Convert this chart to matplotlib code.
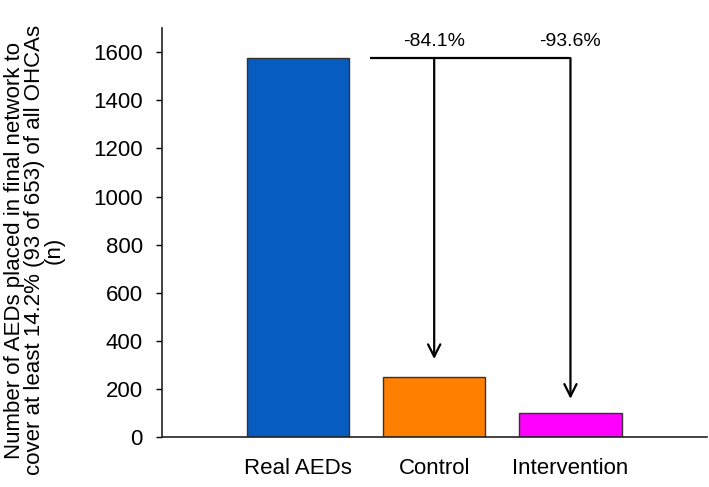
import matplotlib
matplotlib.use("Agg")
import matplotlib.pyplot as plt

# Data
groups = ["Real AEDs", "Control", "Intervention"]
n_aeds = [1575, 250, 100]
bar_colors = ["#075dbf", "#ff8000", "#ff00ff"]
reductions = ["-84.1%", "-93.6%"]
arrow_ends = [325, 160]

plt.rcParams["font.family"] = ["Liberation Sans", "DejaVu Sans"]

fig = plt.figure(figsize=(7.09, 4.87), dpi=100)
ax = fig.add_axes([0.228, 0.102, 0.7688, 0.8405])

x = range(len(groups))
ax.bar(x, n_aeds, width=0.75, color=bar_colors, edgecolor="#333333", linewidth=1)

# bracket from the real AEDs bar to the arrows
top = n_aeds[0]
ax.plot([0.53, 2], [top, top], color="black", lw=1.6, solid_capstyle="butt")
for i, (lab, end) in enumerate(zip(reductions, arrow_ends), start=1):
    ax.annotate("", xy=(i, end), xytext=(i, top),
                arrowprops=dict(arrowstyle="->", color="black", lw=1.6,
                                mutation_scale=22, shrinkA=0, shrinkB=0))
    ax.text(i, 1642, lab, ha="center", va="center", fontsize=14)

ax.set_xlim(-1, 3)
ax.set_ylim(0, 1700)
ax.set_yticks(range(0, 1601, 200))
ax.set_xticks(list(x))
ax.set_xticklabels(groups, fontsize=16)
ax.tick_params(axis="x", length=0, pad=15)
ax.tick_params(axis="y", labelsize=16, length=4.5, width=1, pad=9)
ax.set_ylabel("Number of AEDs placed in final network to\n"
              "cover at least 14.2% (93 of 653) of all OHCAs\n(n)",
              fontsize=16, linespacing=0.92)
ax.yaxis.set_label_coords(-0.178, 0.457)

for s in ["top", "right"]:
    ax.spines[s].set_visible(False)
for s in ["left", "bottom"]:
    ax.spines[s].set_linewidth(1.2)
    ax.spines[s].set_color("#222222")

fig.savefig("out.png", dpi=100)
